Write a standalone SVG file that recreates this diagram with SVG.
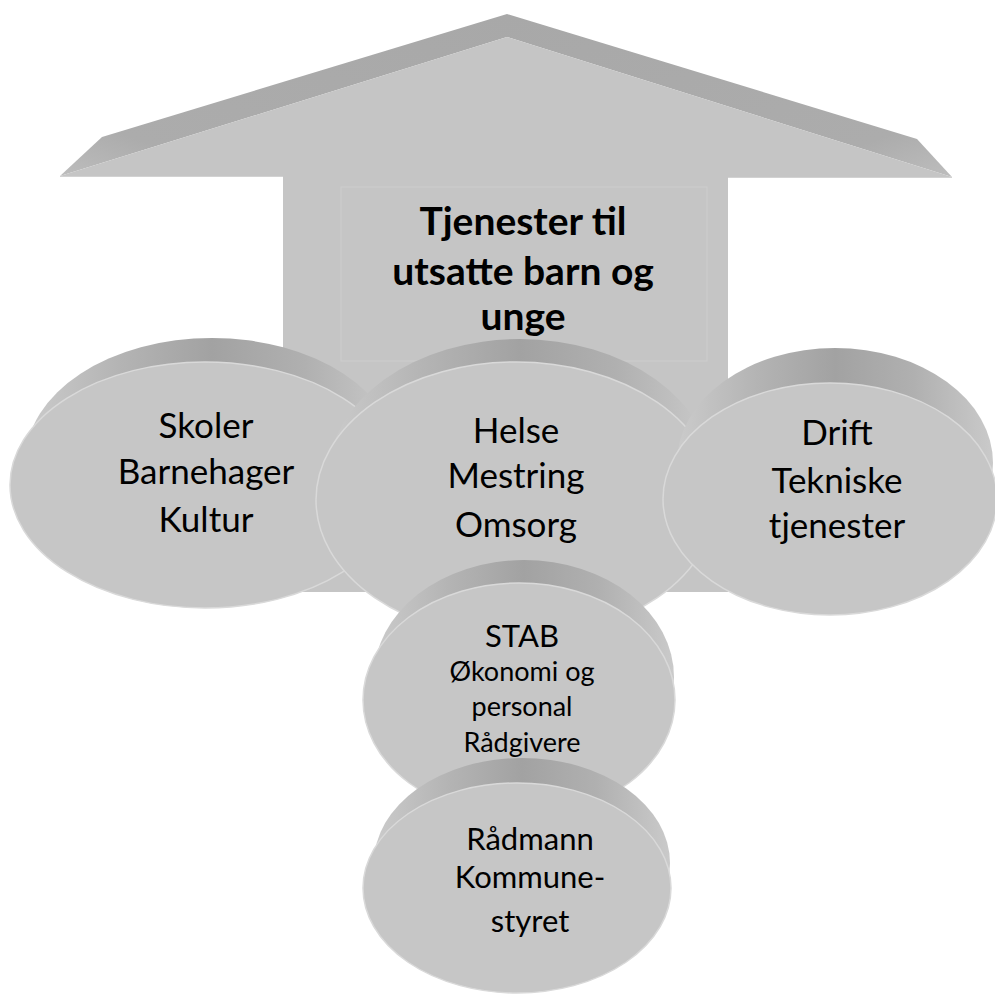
<svg xmlns="http://www.w3.org/2000/svg" width="995" height="994" viewBox="0 0 995 994">
<defs>
<linearGradient id="rim" x1="0" y1="0" x2="1" y2="0">
<stop offset="0" stop-color="#cbcbcb"/>
<stop offset="0.25" stop-color="#b4b4b4"/>
<stop offset="0.5" stop-color="#a2a2a2"/>
<stop offset="0.75" stop-color="#b0b0b0"/>
<stop offset="1" stop-color="#cacaca"/>
</linearGradient>
<linearGradient id="bevL" x1="0" y1="1" x2="1" y2="0">
<stop offset="0" stop-color="#bdbdbd"/>
<stop offset="0.2" stop-color="#acacac"/>
<stop offset="1" stop-color="#a8a8a8"/>
</linearGradient>
<linearGradient id="bevR" x1="0" y1="0" x2="1" y2="1">
<stop offset="0" stop-color="#a8a8a8"/>
<stop offset="0.8" stop-color="#acacac"/>
<stop offset="1" stop-color="#bdbdbd"/>
</linearGradient>
</defs>
<style>
.face{fill:#c6c6c6;stroke:#d9d9d9;stroke-width:1.5}
.back{fill:url(#rim)}
.t{font-family:Lato,"Open Sans","Liberation Sans",sans-serif;fill:#000;text-anchor:middle}
.b{font-size:35px}
.s{font-size:27px}
.title{font-size:39px;font-weight:bold}
</style>
<rect width="995" height="994" fill="#fff"/>
<g id="arrow">
<polygon points="60,176 102,137 507,14 507,37" fill="url(#bevL)"/>
<polygon points="507,14 917,139 952,177 507,37" fill="url(#bevR)"/>
<polygon points="60,176 507,37 952,177 728,177 728,592 283,592 283,177" fill="#c5c5c5"/>
<line x1="60" y1="176.5" x2="283" y2="176.5" stroke="#d2d2d2" stroke-width="1"/>
<line x1="728" y1="177.5" x2="952" y2="177.5" stroke="#d2d2d2" stroke-width="1"/>
<rect x="341" y="187" width="366" height="174" fill="none" stroke="#cdcdcd" stroke-width="1"/>
<text class="t title" x="523" y="235">Tjenester til</text>
<text class="t title" x="523" y="285">utsatte barn og</text>
<text class="t title" x="523" y="330">unge</text>
</g>
<g id="skoler">
<ellipse class="back" cx="212" cy="460" rx="186" ry="122"/>
<ellipse class="face" cx="205" cy="485" rx="195" ry="123"/>
<text class="t b" x="206" y="438">Skoler</text>
<text class="t b" x="206" y="484">Barnehager</text>
<text class="t b" x="206" y="532">Kultur</text>
</g>
<g id="helse">
<ellipse class="back" cx="520" cy="477" rx="192" ry="138"/>
<ellipse class="face" cx="516" cy="500" rx="200" ry="138"/>
<text class="t b" x="516" y="443">Helse</text>
<text class="t b" x="516" y="488">Mestring</text>
<text class="t b" x="516" y="537">Omsorg</text>
</g>
<g id="drift">
<ellipse class="back" cx="835" cy="463" rx="158" ry="115"/>
<ellipse class="face" cx="830" cy="499" rx="167" ry="116"/>
<text class="t b" x="837" y="445">Drift</text>
<text class="t b" x="837" y="493">Tekniske</text>
<text class="t b" x="837" y="538">tjenester</text>
</g>
<g id="stab">
<ellipse class="back" cx="524" cy="677" rx="150" ry="117"/>
<ellipse class="face" cx="519" cy="700" rx="156" ry="117"/>
<text class="t" x="522" y="647" font-size="31">STAB</text>
<text class="t s" x="522" y="681">Økonomi og</text>
<text class="t s" x="522" y="716">personal</text>
<text class="t s" x="522" y="752">Rådgivere</text>
</g>
<g id="radmann">
<ellipse class="back" cx="522" cy="863" rx="148" ry="105"/>
<ellipse class="face" cx="517" cy="888" rx="154" ry="105"/>
<text class="t" x="530" y="850" font-size="31">Rådmann</text>
<text class="t" x="530" y="888" font-size="31">Kommune-</text>
<text class="t" x="530" y="932" font-size="31">styret</text>
</g>
</svg>
